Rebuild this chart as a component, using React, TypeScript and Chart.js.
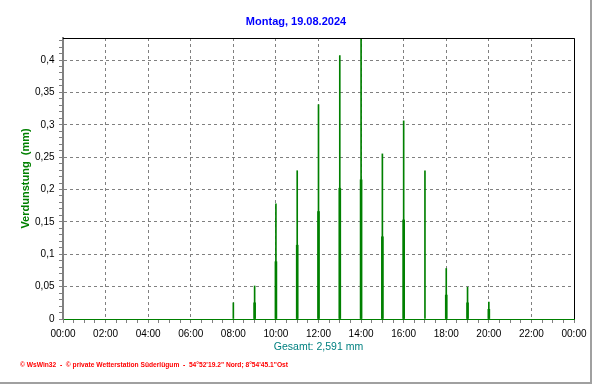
import React, { useEffect, useRef } from 'react';
import { Chart, registerables } from 'chart.js';

Chart.register(...registerables);

// Hourly evaporation (thin bars)
const hourlyTimes = [8, 9, 10, 11, 12, 13, 14, 15, 16, 17, 18, 19, 20];
const hourlyValues = [0.025, 0.051, 0.178, 0.229, 0.331, 0.407, 0.434, 0.255, 0.306, 0.229, 0.078, 0.049, 0.026];
// Half-hour evaporation (wider bars)
const halfTimes = [9, 10, 11, 12, 13, 14, 15, 16, 18, 19, 20];
const halfValues = [0.025, 0.0885, 0.114, 0.166, 0.202, 0.215, 0.127, 0.153, 0.037, 0.025, 0.015];

const titleText = 'Montag, 19.08.2024';
const yAxisTitle = 'Verdunstung  (mm)';
const xAxisTitle = 'Gesamt: 2,591 mm';
const footerText = '\u00A9 WsWin32  -  \u00A9 private Wetterstation S\u00FCderl\u00FCgum  -  54\u00B052\'19.2" Nord; 8\u00B054\'45.1"Ost';
const yMin = 0;
const yMax = 0.434;
const xMin = 0;
const xMax = 24;

const FONT = '"Liberation Sans", Arial, sans-serif';

const decorPlugin = {
  id: 'decor',
  afterDraw(chart: any) {
    const { ctx, chartArea } = chart;
    const { left, right, top, bottom } = chartArea;
    ctx.save();
    ctx.setLineDash([]);
    ctx.strokeStyle = '#000000';
    ctx.lineWidth = 1;
    ctx.beginPath();
    ctx.moveTo(left, Math.round(top) + 0.5);
    ctx.lineTo(Math.round(right) + 0.5, Math.round(top) + 0.5);
    ctx.lineTo(Math.round(right) + 0.5, bottom);
    ctx.stroke();

    ctx.fillStyle = '#ff0000';
    ctx.font = 'bold 8px ' + FONT;
    ctx.textBaseline = 'middle';
    ctx.textAlign = 'left';
    ctx.fillText(footerText, 20, 365, 268);

    ctx.fillStyle = '#a0a0a0';
    ctx.fillRect(590, 0, 2, 384);
    ctx.fillRect(0, 382, 592, 2);
    ctx.restore();
  },
};

export default function App() {
  const canvasRef = useRef<HTMLCanvasElement | null>(null);

  useEffect(() => {
    if (!canvasRef.current) return;
    const chart = new Chart(canvasRef.current, {
      type: 'bar',
      data: {
        datasets: [
          {
            label: 'halb',
            data: halfTimes.map((t, i) => ({ x: t, y: halfValues[i] })),
            backgroundColor: '#008000',
            borderWidth: 0,
            barThickness: 2,
            grouped: false,
          } as any,
          {
            label: 'stündlich',
            data: hourlyTimes.map((t, i) => ({ x: t, y: hourlyValues[i] })),
            backgroundColor: '#008000',
            borderWidth: 0,
            barThickness: 1,
            grouped: false,
          } as any,
        ],
      },
      options: {
        animation: false,
        responsive: false,
        maintainAspectRatio: false,
        layout: { padding: { left: 0, right: 0, top: 0, bottom: 25 } },
        plugins: {
          legend: { display: false },
          tooltip: { enabled: false },
          title: {
            display: true,
            text: titleText,
            color: '#0000ff',
            font: { family: FONT, size: 11, weight: 'bold' },
            padding: { top: 15.4, bottom: 9.4 },
          },
        },
        scales: {
          x: {
            type: 'linear',
            min: xMin,
            max: xMax,
            offset: false,
            afterFit: (s: any) => { s.height = 40; },
            grid: {
              offset: false,
              color: (c: any) => (c.tick && Math.abs(c.tick.value % 2) < 1e-6 ? '#808080' : 'rgba(0,0,0,0)'),
              tickColor: '#808080',
              tickLength: 4,
            } as any,
            border: { display: true, color: '#008000', width: 1, dash: [3, 3] },
            ticks: {
              stepSize: 0.5,
              autoSkip: false,
              maxRotation: 0,
              minRotation: 0,
              padding: 5,
              color: '#000000',
              font: { family: FONT, size: 10 },
              callback: (v: any) => {
                const n = Number(v);
                if (Math.abs(n % 2) > 1e-6) return '';
                const h = Math.round(n) % 24;
                return String(h).padStart(2, '0') + ':00';
              },
            },
            title: {
              display: true,
              text: xAxisTitle,
              color: '#008080',
              font: { family: FONT, size: 10.5 },
              padding: { top: 0, bottom: 5.7 },
            },
          },
          y: {
            type: 'linear',
            min: yMin,
            max: yMax,
            afterFit: (s: any) => { s.width = 63; },
            grid: {
              color: (c: any) => {
                if (!c.tick) return 'rgba(0,0,0,0)';
                const r = Math.round(c.tick.value * 100);
                return r % 5 === 0 ? '#808080' : 'rgba(0,0,0,0)';
              },
              tickColor: '#808080',
              tickLength: 4,
            } as any,
            border: { display: true, color: '#808080', width: 2, dash: [3, 3] },
            ticks: {
              stepSize: 0.01,
              autoSkip: false,
              includeBounds: false,
              padding: 4.5,
              color: '#000000',
              font: { family: FONT, size: 10 },
              callback: (v: any) => {
                const r = Math.round(Number(v) * 100);
                if (r % 5 !== 0) return '';
                return String(r / 100).replace('.', ',');
              },
            } as any,
            title: {
              display: true,
              text: yAxisTitle,
              color: '#008000',
              font: { family: FONT, size: 11, weight: 'bold' },
              padding: { top: 19.4, bottom: 0 },
            },
          },
          yRight: {
            type: 'linear',
            position: 'right',
            display: true,
            afterFit: (s: any) => { s.width = 18; },
            grid: { display: false, drawTicks: false },
            border: { display: false },
            ticks: { display: false },
          },
        },
      } as any,
      plugins: [decorPlugin],
    });
    return () => chart.destroy();
  }, []);

  return (
    <div style={{ position: 'absolute', left: 0, top: 0, width: 592, height: 384, background: '#ffffff' }}>
      <canvas ref={canvasRef} width={592} height={384} style={{ display: 'block', width: 592, height: 384 }} />
    </div>
  );
}
